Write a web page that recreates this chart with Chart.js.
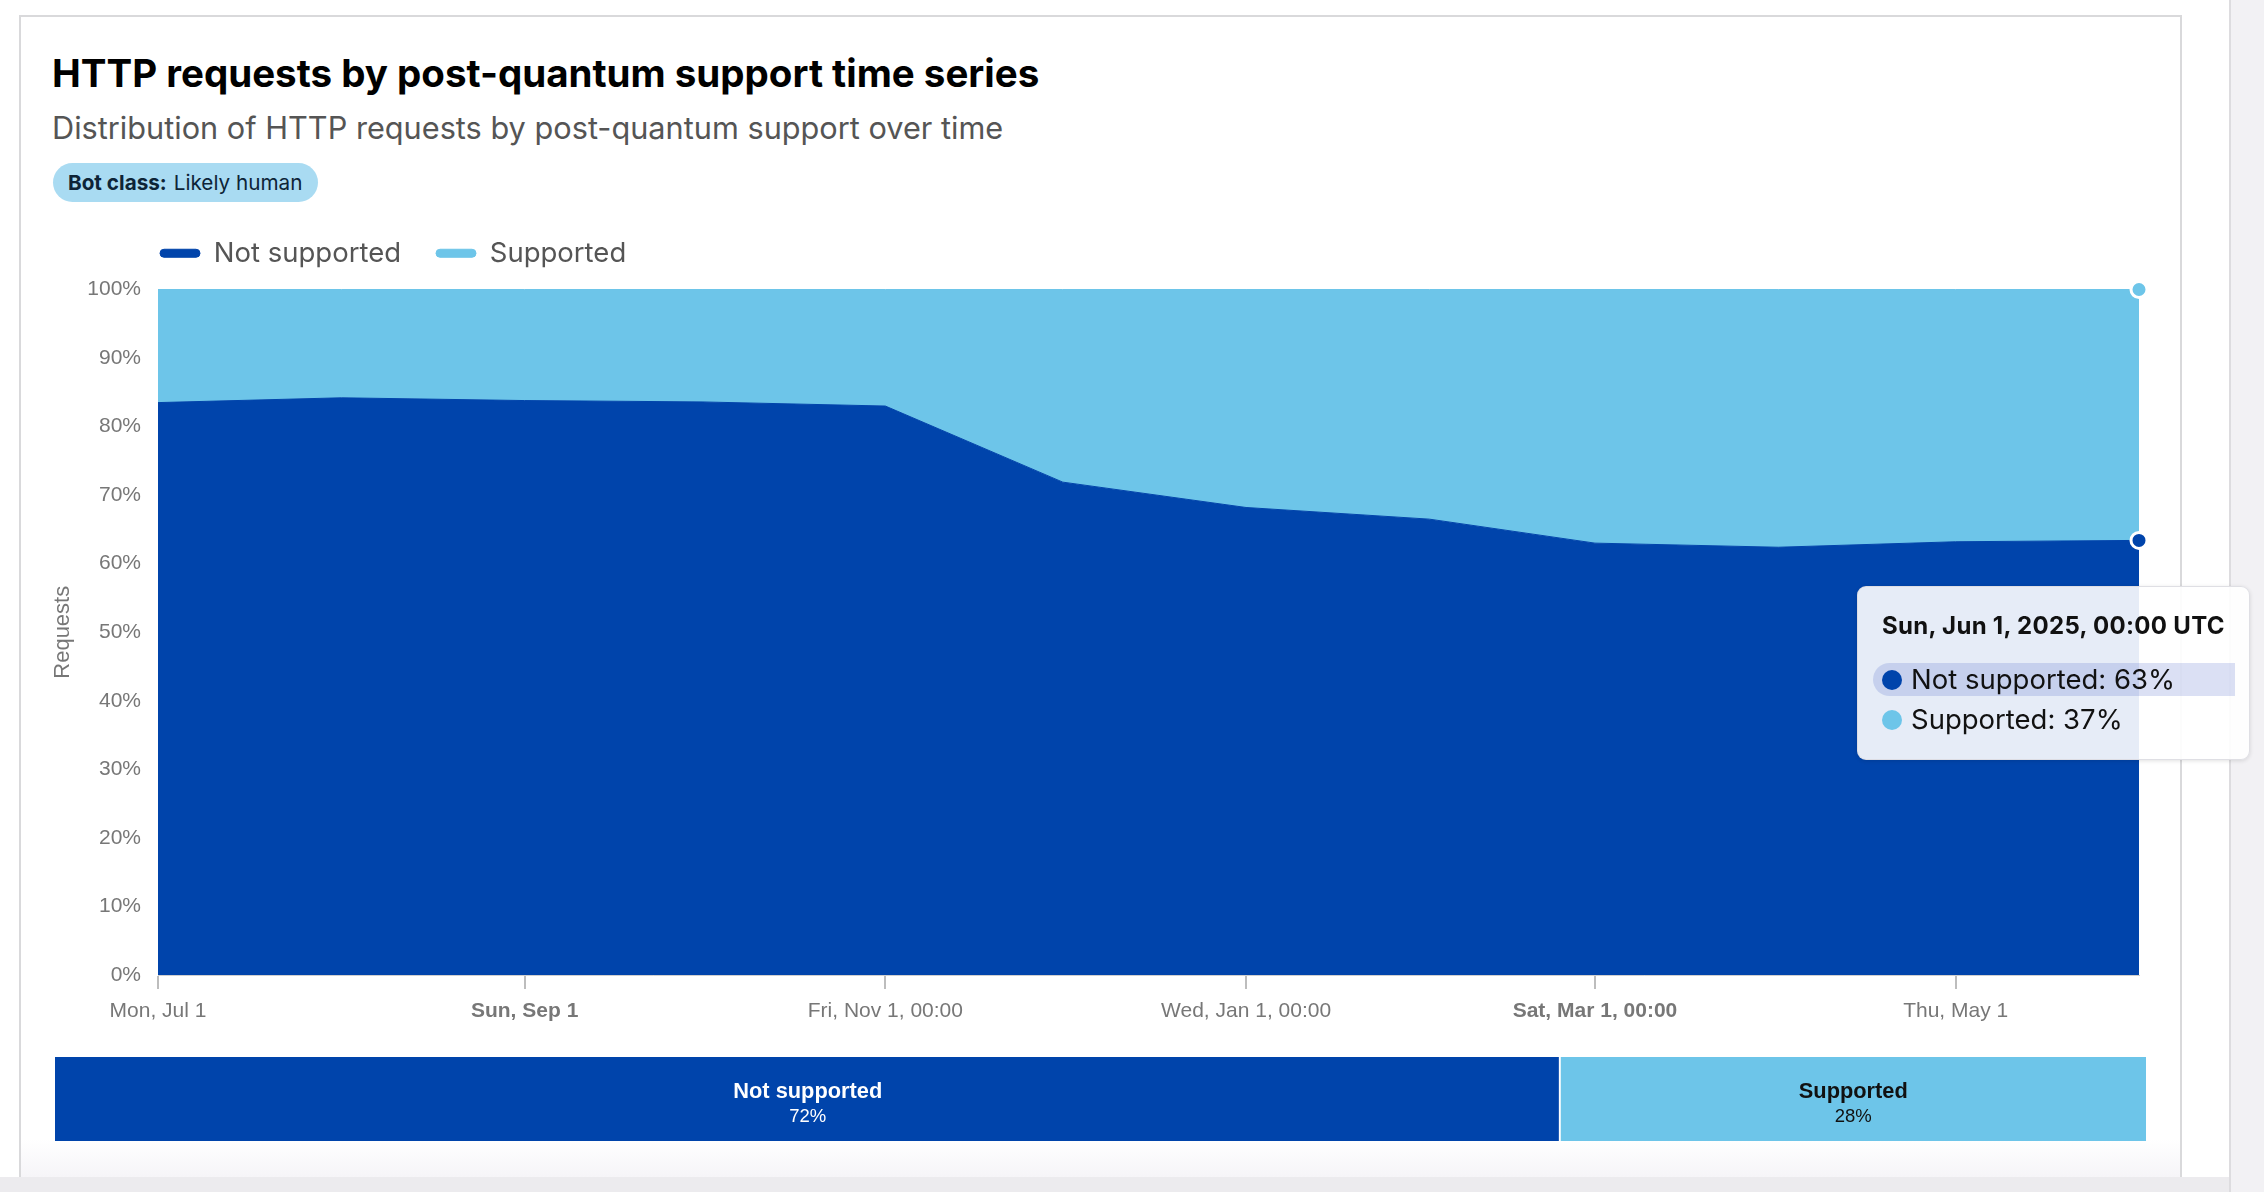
<!DOCTYPE html>
<html>
<head>
<meta charset="utf-8">
<script src="https://cdn.jsdelivr.net/npm/chart.js@4.4.1/dist/chart.umd.min.js"></script>
<style>
  html, body { margin:0; padding:0; background:#fff; }
  body { width:2264px; height:1192px; position:relative; overflow:hidden; font-family: Inter, "Noto Sans", sans-serif; }
  #sidebar { position:absolute; left:2229px; top:0; width:35px; height:1192px; background:#f2f1f4; border-left:2px solid #dddcdf; box-sizing:border-box; }
  #bottomstrip { position:absolute; left:0; top:1177px; width:2229px; height:15px; background:#ecebee; }
  #card { position:absolute; left:19px; top:15px; width:2163px; height:1164px; box-sizing:border-box; border:2px solid #d9d9db; background:#fff; overflow:hidden; }
  #cardfade { position:absolute; left:0; right:0; bottom:0; height:38px; background:linear-gradient(#ffffff, #f6f5f8); }
  #title { position:absolute; left:52px; top:54px; font-weight:700; font-size:38.5px; line-height:38.5px; color:#000; white-space:nowrap; }
  #subtitle { position:absolute; left:52px; top:112.5px; font-weight:400; font-size:30.7px; line-height:30.7px; color:#555; white-space:nowrap; }
  #badge { position:absolute; left:53px; top:163px; height:39px; width:265px; border-radius:20px; background:#a9dbf2; display:flex; align-items:center; box-sizing:border-box; padding-left:15px; font-size:20.7px; color:#0d2437; white-space:nowrap; }
  #badge b { font-weight:700; margin-right:7px; }
  #main { position:absolute; left:30px; top:200px; }
  #summary { position:absolute; left:55px; top:1057px; }
  #tt { position:absolute; width:393px; height:174px; box-sizing:border-box; border-radius:9px; background:rgba(255,255,255,0.9); box-shadow:0 1px 4px rgba(0,0,0,0.12); border:1px solid rgba(220,220,225,0.9); opacity:0; pointer-events:none; }
  #tt .ttl { position:absolute; left:24px; top:26.3px; font-weight:700; font-size:24px; line-height:24px; color:#111; white-space:nowrap; letter-spacing:0.3px; }
  #tt .hl { position:absolute; left:15px; width:362px; height:33px; background:rgba(40,70,190,0.17); border-radius:17px 0 0 17px; }
  #tt .dot { position:absolute; width:20px; height:20px; border-radius:50%; left:24px; }
  #tt .txt { position:absolute; left:53px; font-size:27.5px; line-height:27.5px; color:#111; white-space:nowrap; }
</style>
</head>
<body>
<div id="card"><div id="cardfade"></div></div>
<div id="sidebar"></div>
<div id="bottomstrip"></div>
<div id="title">HTTP requests by post-quantum support time series</div>
<div id="subtitle">Distribution of HTTP requests by post-quantum support over time</div>
<div id="badge"><b>Bot class:</b>Likely human</div>
<canvas id="main" width="2140" height="840"></canvas>
<canvas id="summary" width="2091" height="84"></canvas>
<div id="tt"></div>
<script>
// ---------- data ----------
const categories = ['2024-07-01','2024-08-01','2024-09-01','2024-10-01','2024-11-01','2024-12-01','2025-01-01','2025-02-01','2025-03-01','2025-04-01','2025-05-01','2025-06-01'];
const seriesNames = ['Not supported', 'Supported'];
const notSupported = [83.5, 84.2, 83.8, 83.6, 83.0, 71.9, 68.2, 66.5, 63.0, 62.4, 63.2, 63.4];
const supported    = [16.5, 15.8, 16.2, 16.4, 17.0, 28.1, 31.8, 33.5, 37.0, 37.6, 36.8, 36.6];
const tickDates  = ['2024-07-01','2024-09-01','2024-11-01','2025-01-01','2025-03-01','2025-05-01'];
const tickLabels = ['Mon, Jul 1','Sun, Sep 1','Fri, Nov 1, 00:00','Wed, Jan 1, 00:00','Sat, Mar 1, 00:00','Thu, May 1'];
const tickBold   = [false, true, false, false, true, false];
const yTickValues = [0, 10, 20, 30, 40, 50, 60, 70, 80, 90, 100];
const summaryNames  = ['Not supported', 'Supported'];
const summaryValues = [72, 28];

// ---------- styles ----------
const DARK = '#0044ab';
const LIGHT = '#6dc5e9';
const seriesColors = [DARK, LIGHT];
const AXIS_FONT = 'Liberation Sans, Arial, sans-serif';
const highlightIndex = 0;

const WD = ['Sun','Mon','Tue','Wed','Thu','Fri','Sat'];
const MO = ['Jan','Feb','Mar','Apr','May','Jun','Jul','Aug','Sep','Oct','Nov','Dec'];
function fmtTitle(ts) {
  const d = new Date(ts);
  const hh = String(d.getUTCHours()).padStart(2,'0');
  const mm = String(d.getUTCMinutes()).padStart(2,'0');
  return `${WD[d.getUTCDay()]}, ${MO[d.getUTCMonth()]} ${d.getUTCDate()}, ${d.getUTCFullYear()}, ${hh}:${mm} UTC`;
}

const xs = categories.map(c => Date.parse(c));
const seriesValues = [notSupported, supported];

const legendShift = {
  id: 'legendShift',
  afterLayout(chart, args, opts) {
    const lg = chart.legend;
    if (!lg) return;
    lg.left += opts.dx; lg.right += opts.dx;
    lg.top += opts.dy; lg.bottom += opts.dy;
  }
};

const mainCanvas = document.getElementById('main');
const mainChart = new Chart(mainCanvas, {
  type: 'line',
  data: {
    datasets: seriesNames.map((name, i) => ({
      label: name,
      data: xs.map((x, j) => ({ x, y: seriesValues[i][j] })),
      backgroundColor: seriesColors[i],
      borderColor: seriesColors[i],
      borderWidth: 1,
      fill: i === 0 ? 'origin' : '-1',
      tension: 0,
      clip: false,
      pointRadius: 0,
      pointHoverRadius: 8,
      pointHoverBorderWidth: 3,
      pointHoverBorderColor: '#ffffff',
      pointHoverBackgroundColor: seriesColors[i]
    }))
  },
  options: {
    responsive: false,
    animation: false,
    layout: { padding: { top: 17, right: 31, left: 0, bottom: 0 } },
    interaction: { mode: 'index', intersect: false },
    scales: {
      x: {
        type: 'linear',
        min: xs[0],
        max: xs[xs.length - 1],
        afterBuildTicks: (axis) => { axis.ticks = tickDates.map(d => ({ value: Date.parse(d) })); },
        afterFit: (s) => { s.height = 65; },
        grid: { display: true, drawOnChartArea: false, drawTicks: true, tickLength: 14, color: '#bdbdbd', lineWidth: 2 },
        border: { display: true, color: '#cfcfcf' },
        ticks: {
          autoSkip: false, maxRotation: 0, padding: 10,
          color: '#777',
          font: (ctx) => ({ family: AXIS_FONT, size: 21, weight: tickBold[ctx.index] ? 'bold' : 'normal' }),
          callback: (v, i) => tickLabels[i]
        }
      },
      y: {
        stacked: true,
        min: 0, max: 100,
        afterBuildTicks: (axis) => { axis.ticks = yTickValues.map(v => ({ value: v })); },
        afterFit: (s) => { s.width = 128; },
        grid: { color: '#e6e6e6', drawTicks: false },
        border: { display: true, color: '#cfcfcf' },
        ticks: { padding: 17, color: '#777', font: { family: AXIS_FONT, size: 21 }, callback: (v) => v + '%' },
        title: { display: true, text: 'Requests', color: '#777', font: { family: AXIS_FONT, size: 22 }, padding: { top: 20, bottom: 0 } }
      }
    },
    plugins: {
      legendShift: { dx: 95, dy: -12.5 },
      legend: {
        position: 'top', align: 'start',
        labels: {
          boxWidth: 40, boxHeight: 8, padding: 35, color: '#555',
          useBorderRadius: true, borderRadius: 4,
          font: { family: 'Inter', size: 27.5 }
        }
      },
      tooltip: {
        enabled: false,
        mode: 'index', intersect: false,
        callbacks: {
          title: (items) => fmtTitle(items[0].parsed.x),
          label: (item) => `${item.dataset.label}: ${Math.round(item.parsed.y)}%`
        },
        external: (context) => {
          const { chart, tooltip } = context;
          const el = document.getElementById('tt');
          if (!tooltip || tooltip.opacity === 0 || !tooltip.dataPoints || !tooltip.dataPoints.length) { el.style.opacity = 0; return; }
          const idx = tooltip.dataPoints[0].dataIndex;
          const anchor = chart.getDatasetMeta(highlightIndex).data[idx];
          let html = `<div class="ttl">${tooltip.title[0]}</div>`;
          tooltip.dataPoints.forEach((dp, k) => {
            const rowTop = 76 + k * 40;
            if (dp.datasetIndex === highlightIndex) html += `<div class="hl" style="top:${rowTop}px"></div>`;
            html += `<div class="dot" style="top:${rowTop + 7}px;background:${seriesColors[dp.datasetIndex]}"></div>`;
            html += `<div class="txt" style="top:${rowTop + 2.3}px">${tooltip.body[k].lines.join(' ')}</div>`;
          });
          el.innerHTML = html;
          el.style.left = (mainCanvas.offsetLeft + anchor.x - 282) + 'px';
          el.style.top = (mainCanvas.offsetTop + anchor.y + 46) + 'px';
          el.style.opacity = 1;
        }
      }
    }
  },
  plugins: [legendShift]
});

const lastIdx = xs.length - 1;
const activeEls = seriesNames.map((_, i) => ({ datasetIndex: i, index: lastIdx }));
mainChart.setActiveElements(activeEls);
const ap = mainChart.getDatasetMeta(0).data[lastIdx];
mainChart.tooltip.setActiveElements(activeEls, { x: ap.x, y: ap.y });
mainChart.render();

// ---------- summary bar ----------
const summaryLabelPlugin = {
  id: 'summaryLabels',
  afterDatasetsDraw(chart) {
    const ctx = chart.ctx;
    chart.data.datasets.forEach((ds, i) => {
      const bar = chart.getDatasetMeta(i).data[0];
      const cx = (bar.x + bar.base) / 2;
      const cy = bar.y;
      ctx.save();
      ctx.textAlign = 'center';
      ctx.textBaseline = 'alphabetic';
      ctx.fillStyle = i === 0 ? '#ffffff' : '#111111';
      ctx.font = `bold 21.8px ${AXIS_FONT}`;
      ctx.fillText(ds.label, cx, cy - 1);
      ctx.font = `18.5px ${AXIS_FONT}`;
      ctx.fillText(ds.data[0] + '%', cx, cy + 23);
      ctx.restore();
    });
  }
};

new Chart(document.getElementById('summary'), {
  type: 'bar',
  data: {
    labels: [''],
    datasets: summaryNames.map((name, i) => ({
      label: name,
      data: [summaryValues[i]],
      backgroundColor: seriesColors[i],
      borderColor: '#ffffff',
      borderWidth: i === 0 ? { right: 2 } : 0,
      borderSkipped: false,
      barPercentage: 1,
      categoryPercentage: 1
    }))
  },
  options: {
    indexAxis: 'y',
    responsive: false,
    animation: false,
    layout: { padding: 0 },
    plugins: { legend: { display: false }, tooltip: { enabled: false } },
    scales: {
      x: { stacked: true, display: false, min: 0, max: 100 },
      y: { stacked: true, display: false }
    }
  },
  plugins: [summaryLabelPlugin]
});
</script>
</body>
</html>
